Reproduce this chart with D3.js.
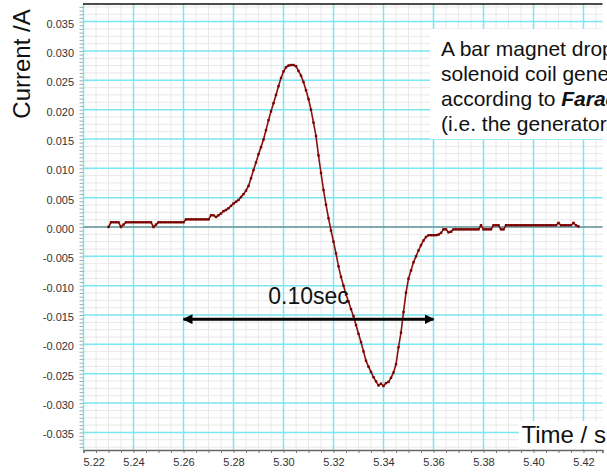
<!DOCTYPE html>
<html>
<head>
<meta charset="utf-8">
<script src="https://cdn.jsdelivr.net/npm/d3@7"></script>
<style>
  body { margin: 0; background: #fff; }
  text { font-family: "Liberation Sans", Arial, sans-serif; }
</style>
</head>
<body>
<svg id="chart" width="607" height="475"></svg>
<script>
// logger samples: first sample time and interval (s)
let startTime = 5.230;
let sampleStep = 0.001;

// current (A), one value per sample
let current = [
  0.0000, 0.0008, 0.0008, 0.0008, 0.0008, 0.0000, 0.0004, 0.0008, 0.0008, 0.0008,
  0.0008, 0.0008, 0.0008, 0.0008, 0.0008, 0.0008, 0.0008, 0.0008, 0.0000, 0.0004,
  0.0008, 0.0008, 0.0008, 0.0008, 0.0008, 0.0008, 0.0008, 0.0008, 0.0008, 0.0008,
  0.0008, 0.0013, 0.0013, 0.0013, 0.0013, 0.0013, 0.0013, 0.0013, 0.0013, 0.0013,
  0.0013, 0.0020, 0.0020, 0.0017, 0.0020, 0.0023, 0.0027, 0.0029, 0.0032, 0.0036,
  0.0040, 0.0043, 0.0046, 0.0051, 0.0056, 0.0062, 0.0070, 0.0083, 0.0097, 0.0110,
  0.0124, 0.0136, 0.0149, 0.0165, 0.0182, 0.0197, 0.0211, 0.0225, 0.0240, 0.0254,
  0.0265, 0.0272, 0.0275, 0.0276, 0.0276, 0.0274, 0.0266, 0.0258, 0.0247, 0.0233,
  0.0218, 0.0200, 0.0178, 0.0155, 0.0122, 0.0092, 0.0063, 0.0038, 0.0015, -0.0006,
  -0.0025, -0.0045, -0.0067, -0.0085, -0.0100, -0.0115, -0.0127, -0.0140, -0.0152, -0.0167,
  -0.0182, -0.0196, -0.0212, -0.0228, -0.0238, -0.0247, -0.0256, -0.0263, -0.0270, -0.0267,
  -0.0271, -0.0266, -0.0264, -0.0257, -0.0248, -0.0234, -0.0205, -0.0180, -0.0145, -0.0112,
  -0.0088, -0.0074, -0.0060, -0.0050, -0.0040, -0.0031, -0.0023, -0.0017, -0.0014, -0.0014,
  -0.0014, -0.0014, -0.0013, -0.0010, -0.0004, -0.0004, -0.0009, -0.0008, -0.0004, -0.0004,
  -0.0004, -0.0004, -0.0004, -0.0004, -0.0004, -0.0004, -0.0004, -0.0004, -0.0004, 0.0003,
  -0.0004, -0.0004, -0.0004, -0.0004, 0.0003, 0.0003, 0.0003, -0.0004, -0.0004, 0.0003,
  0.0003, 0.0003, 0.0003, 0.0003, 0.0003, 0.0003, 0.0003, 0.0003, 0.0003, 0.0003,
  0.0003, 0.0003, 0.0003, 0.0003, 0.0003, 0.0003, 0.0003, 0.0003, 0.0003, 0.0003,
  0.0007, 0.0003, 0.0003, 0.0003, 0.0003, 0.0003, 0.0007, 0.0003, 0.0001
];

let xTicks = [5.22, 5.24, 5.26, 5.28, 5.30, 5.32, 5.34, 5.36, 5.38, 5.40, 5.42];
let yTicks = [0.035, 0.030, 0.025, 0.020, 0.015, 0.010, 0.005, 0.000,
              -0.005, -0.010, -0.015, -0.020, -0.025, -0.030, -0.035];

// the 0.10 s double arrow
let spanEnds = [5.26, 5.36];
let spanLevel = -0.0157;
let spanLabel = "0.10sec";
let spanLabelLevel = -0.0131;

let xTitle = "Time / s";
let yTitle = "Current /A";
let note = [
  [{t: "A bar magnet dropped through a"}],
  [{t: "solenoid coil generates a current"}],
  [{t: "according to "}, {t: "Faraday's Law", b: true}],
  [{t: "(i.e. the generator effect)"}]
];

let svg = d3.select("#chart");
let plotLeft = 83.5, plotRight = 602.5, plotTop = 4, plotBottom = 450;

let x = d3.scaleLinear().domain([5.22, 5.4276]).range([plotLeft, plotRight]);
let y = d3.scaleLinear().domain([-0.038, 0.038]).range([plotBottom, plotTop]);

let samples = current.map((v, i) => ({t: startTime + i * sampleStep, v: v}));

// minor grid
let xMinor = d3.range(0, 42).map(i => 5.22 + i * 0.005);
let yMinor = d3.range(-30, 31).map(i => i * 0.00125);
let grid = svg.append("g");
grid.selectAll(".xm").data(xMinor).enter().append("line")
    .attr("x1", d => x(d)).attr("x2", d => x(d))
    .attr("y1", plotTop).attr("y2", plotBottom)
    .attr("stroke", "#e8e8e8").attr("stroke-width", 1);
grid.selectAll(".ym").data(yMinor).enter().append("line")
    .attr("x1", plotLeft).attr("x2", plotRight)
    .attr("y1", d => y(d)).attr("y2", d => y(d))
    .attr("stroke", "#e8e8e8").attr("stroke-width", 1);

// major grid
grid.selectAll(".xM").data(xTicks).enter().append("line")
    .attr("x1", d => x(d)).attr("x2", d => x(d))
    .attr("y1", plotTop).attr("y2", plotBottom)
    .attr("stroke", "#7ae8f2").attr("stroke-width", 1.5);
grid.selectAll(".yM").data(yTicks).enter().append("line")
    .attr("x1", plotLeft).attr("x2", plotRight)
    .attr("y1", d => y(d)).attr("y2", d => y(d))
    .attr("stroke", "#7ae8f2").attr("stroke-width", 1.5);

// zero line and frame
svg.append("line")
   .attr("x1", plotLeft).attr("x2", plotRight)
   .attr("y1", y(0)).attr("y2", y(0))
   .attr("stroke", "#6a6a6a").attr("stroke-width", 1.2);
svg.append("line")
   .attr("x1", plotLeft - 0.5).attr("x2", plotRight)
   .attr("y1", plotTop).attr("y2", plotTop)
   .attr("stroke", "#111").attr("stroke-width", 1.5);

// bottom axis
let xAxis = d3.axisBottom(x)
  .tickValues(xMinor)
  .tickSize(3)
  .tickFormat(d => {
    let hit = xTicks.find(v => Math.abs(v - d) < 1e-6);
    return hit === undefined ? "" : hit.toFixed(2);
  });
let gx = svg.append("g")
  .attr("transform", "translate(0," + plotBottom + ")")
  .call(xAxis);
gx.select(".domain").attr("stroke", "#666").attr("stroke-width", 1.5);
gx.selectAll(".tick line").attr("stroke", "#777");
gx.selectAll(".tick text")
  .attr("fill", "#333").attr("font-size", 11)
  .attr("y", 8).attr("dy", "0.71em");
gx.selectAll(".tick text").filter(d => Math.abs(d - 5.22) < 1e-6)
  .attr("text-anchor", "start").attr("x", -0.5);

// left ticks and labels
let yMinorTicks = d3.range(-60, 61).map(i => i * 0.000625);
let yAxis = d3.axisLeft(y)
  .tickValues(yMinorTicks)
  .tickSize(4)
  .tickFormat(d => {
    let hit = yTicks.find(v => Math.abs(v - d) < 1e-7);
    return hit === undefined ? "" : hit.toFixed(3);
  });
let gy = svg.append("g")
  .attr("transform", "translate(" + plotLeft + ",0)")
  .call(yAxis);
gy.select(".domain").remove();
gy.selectAll(".tick line").attr("stroke", "#aaa");
gy.selectAll(".tick text")
  .attr("fill", "#333").attr("font-size", 11)
  .attr("x", -9.5).attr("dy", "0.5em");

// trace
let line = d3.line().x(d => x(d.t)).y(d => y(d.v));
svg.append("path")
   .datum(samples)
   .attr("d", line)
   .attr("fill", "none")
   .attr("stroke", "#8b1010")
   .attr("stroke-width", 1.6);
svg.selectAll(".pt").data(samples).enter().append("rect")
   .attr("x", d => x(d.t) - 1.2).attr("y", d => y(d.v) - 1.2)
   .attr("width", 2.4).attr("height", 2.4)
   .attr("fill", "#7a0000");

// text box (runs off the right edge, as in the slide)
svg.append("rect")
   .attr("x", 430).attr("y", 29).attr("width", 190).attr("height", 110)
   .attr("fill", "#fff");
let noteText = svg.append("text")
   .attr("font-size", 21).attr("fill", "#111");
note.forEach((parts, i) => {
  parts.forEach((p, j) => {
    let sp = noteText.append("tspan").text(p.t);
    if (j === 0) sp.attr("x", 441).attr("y", 56 + i * 25);
    if (p.b) sp.attr("font-weight", "bold").attr("font-style", "italic");
  });
});

// double arrow with label
let defs = svg.append("defs");
defs.append("marker")
   .attr("id", "head")
   .attr("viewBox", "0 0 10 10")
   .attr("refX", 9).attr("refY", 5)
   .attr("markerWidth", 10).attr("markerHeight", 10)
   .attr("markerUnits", "userSpaceOnUse")
   .attr("orient", "auto-start-reverse")
   .append("path")
   .attr("d", "M0,0 L10,5 L0,10 Z")
   .attr("fill", "#000");
svg.append("line")
   .attr("x1", x(spanEnds[0])).attr("x2", x(spanEnds[1]))
   .attr("y1", y(spanLevel)).attr("y2", y(spanLevel))
   .attr("stroke", "#000").attr("stroke-width", 3)
   .attr("marker-start", "url(#head)")
   .attr("marker-end", "url(#head)");
svg.append("text")
   .attr("x", x((spanEnds[0] + spanEnds[1]) / 2))
   .attr("y", y(spanLabelLevel))
   .attr("text-anchor", "middle")
   .attr("font-size", 23).attr("fill", "#111")
   .text(spanLabel);

// axis titles
svg.append("rect")
   .attr("x", 519).attr("y", 421).attr("width", 90).attr("height", 28)
   .attr("fill", "#fff");
svg.append("text")
   .attr("x", 521.5).attr("y", 443)
   .attr("font-size", 24).attr("fill", "#111")
   .text(xTitle);
svg.append("text")
   .attr("transform", "translate(30,64) rotate(-90)")
   .attr("text-anchor", "middle")
   .attr("font-size", 24).attr("fill", "#111")
   .text(yTitle);
</script>
</body>
</html>
